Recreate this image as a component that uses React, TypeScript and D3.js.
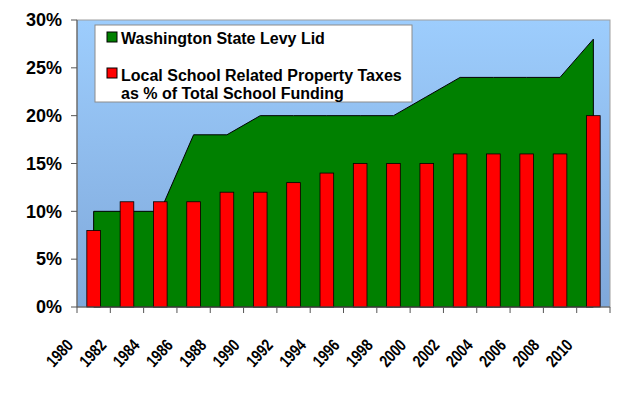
import * as d3 from "d3";

// two-year steps shown on the category axis
const years = [
  "1980", "1982", "1984", "1986", "1988", "1990", "1992", "1994",
  "1996", "1998", "2000", "2002", "2004", "2006", "2008", "2010",
];
// Washington State Levy Lid (%) - green area
const levyLid = [10, 10, 10, 18, 18, 20, 20, 20, 20, 20, 22, 24, 24, 24, 24, 28];
// Local school related property taxes as % of total school funding - red bars
const localTaxes = [8, 11, 11, 11, 12, 12, 13, 14, 15, 15, 15, 16, 16, 16, 16, 20];
const yTicks = [0, 5, 10, 15, 20, 25, 30];

const W = 624;
const H = 394;
const margin = { top: 20, right: 14, bottom: 87, left: 77 };
const FONT = "'Liberation Sans', Arial, sans-serif";

export default function App() {
  const x = d3
    .scaleBand<string>()
    .domain(years)
    .range([margin.left, W - margin.right])
    .padding(0);
  const y = d3
    .scaleLinear()
    .domain([0, 30])
    .range([H - margin.bottom, margin.top]);

  const cx = (i: number) => x(years[i])! + x.bandwidth() / 2;
  const barW = x.bandwidth() * 0.41;

  const area = d3
    .area<number>()
    .x((_, i) => cx(i))
    .y0(y(0))
    .y1((d) => y(d));

  const left = margin.left;
  const right = W - margin.right;
  const top = margin.top;
  const bottom = H - margin.bottom;

  return (
    <svg
      width={W}
      height={H}
      style={{ position: "absolute", left: 0, top: 0, background: "#fff" }}
      fontFamily={FONT}
    >
      <defs>
        <linearGradient id="plotBg" x1="0" y1="0" x2="0" y2="1">
          <stop offset="0%" stopColor="#9dcdfd" />
          <stop offset="100%" stopColor="#7fa8da" />
        </linearGradient>
      </defs>

      {/* plot area */}
      <rect
        x={left}
        y={top}
        width={right - left}
        height={bottom - top}
        fill="url(#plotBg)"
        stroke="#a0a0a0"
        strokeWidth={1}
      />

      {/* levy lid area */}
      <path d={area(levyLid)!} fill="#008000" stroke="#000" strokeWidth={1} />

      {/* property tax bars */}
      {localTaxes.map((v, i) => (
        <rect
          key={years[i]}
          x={cx(i) - barW / 2}
          y={y(v)}
          width={barW}
          height={y(0) - y(v)}
          fill="#ff0000"
          stroke="#000"
          strokeWidth={0.8}
        />
      ))}

      {/* y axis */}
      <line x1={left} x2={left} y1={top} y2={bottom} stroke="#555" />
      {yTicks.map((t) => (
        <g key={t}>
          <line x1={left - 6} x2={left} y1={y(t)} y2={y(t)} stroke="#555" />
          <text
            x={62}
            y={y(t)}
            dy="0.35em"
            textAnchor="end"
            fontSize={18}
            fontWeight="bold"
          >
            {t}%
          </text>
        </g>
      ))}

      {/* x axis */}
      <line x1={left} x2={right} y1={bottom} y2={bottom} stroke="#555" />
      {[...years, "end"].map((yr, i) => {
        const tx = i < years.length ? x(yr)! : right;
        return (
          <line key={yr} x1={tx} x2={tx} y1={bottom} y2={bottom + 6} stroke="#555" />
        );
      })}
      {years.map((yr) => (
        <text
          key={yr}
          transform={`translate(${x(yr)! - 3},${bottom + 39}) rotate(-47)`}
          textAnchor="end"
          fontSize={17}
          fontWeight="bold"
          textLength={30}
          lengthAdjust="spacingAndGlyphs"
        >
          {yr}
        </text>
      ))}

      {/* legend */}
      <rect x={95} y={25} width={317} height={77} fill="#fff" stroke="#8c8c8c" />
      <rect x={107} y={32} width={10} height={10} fill="#008000" stroke="#000" />
      <text x={121} y={44} fontSize={16} fontWeight="bold">
        Washington State Levy Lid
      </text>
      <rect x={107} y={68} width={10} height={10} fill="#ff0000" stroke="#000" />
      <text x={121} y={81} fontSize={16} fontWeight="bold">
        Local School Related Property Taxes
      </text>
      <text x={121} y={99} fontSize={16} fontWeight="bold">
        as % of Total School Funding
      </text>
    </svg>
  );
}
